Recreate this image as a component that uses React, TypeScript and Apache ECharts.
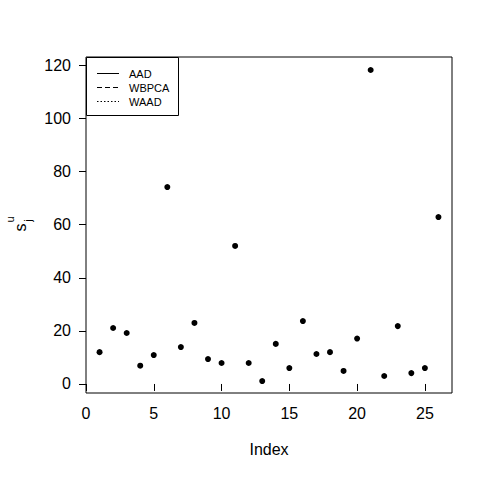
import React, { useEffect, useRef } from "react";
import * as echarts from "echarts";

const indexValues = [1, 2, 3, 4, 5, 6, 7, 8, 9, 10, 11, 12, 13, 14, 15, 16, 17, 18, 19, 20, 21, 22, 23, 24, 25, 26];
const sValues = [12.0, 21.1, 19.2, 6.9, 10.9, 74.2, 13.9, 23.0, 9.4, 7.9, 52.0, 7.9, 1.1, 15.1, 6.0, 23.7, 11.3, 12.0, 4.9, 17.1, 118.3, 3.0, 21.8, 4.1, 6.0, 62.9];
const xTicks = [0, 5, 10, 15, 20, 25];
const yTicks = [0, 20, 40, 60, 80, 100, 120];
const legendNames = ["AAD", "WBPCA", "WAAD"];
const legendDash: (number[] | null)[] = [null, [5, 3], [1.5, 2]];

const FONT = "'Liberation Sans', Arial, sans-serif";

export default function App() {
  const ref = useRef<HTMLDivElement>(null);
  useEffect(() => {
    if (!ref.current) return;
    const chart = echarts.init(ref.current, undefined, { renderer: "svg" });
    const legendX = 86, legendY = 57, rowH = 14;
    const legendGraphics: any[] = [
      {
        type: "rect",
        shape: { x: legendX + 0.5, y: legendY + 0.5, width: 92, height: 58 },
        style: { fill: "#fff", stroke: "#000", lineWidth: 1 },
        z: 10,
      },
    ];
    legendNames.forEach((name, i) => {
      const y = 73.5 + i * rowH;
      legendGraphics.push({
        type: "line",
        shape: { x1: 97, y1: y, x2: 119, y2: y },
        style: { stroke: "#000", lineWidth: 1, lineDash: legendDash[i] || undefined },
        z: 11,
      });
      legendGraphics.push({
        type: "text",
        x: 129,
        y: y,
        style: { text: name, font: `11px ${FONT}`, fill: "#000", textAlign: "left", textVerticalAlign: "middle" },
        z: 11,
      });
    });
    const ylab: any[] = [
      {
        type: "text", x: 20, y: 227.5, rotation: Math.PI / 2,
        style: { text: "s", font: `16px ${FONT}`, fill: "#000", textAlign: "center", textVerticalAlign: "middle" },
      },
      {
        type: "text", x: 10, y: 219.5, rotation: Math.PI / 2,
        style: { text: "u", font: `11px ${FONT}`, fill: "#000", textAlign: "center", textVerticalAlign: "middle" },
      },
      {
        type: "text", x: 28, y: 220.5, rotation: Math.PI / 2,
        style: { text: "j", font: `11px ${FONT}`, fill: "#000", textAlign: "center", textVerticalAlign: "middle" },
      },
    ];
    chart.setOption({
      animation: false,
      backgroundColor: "#fff",
      textStyle: { fontFamily: FONT },
      grid: {
        left: 86, top: 57, right: 28, bottom: 87,
        show: true, borderColor: "#000", borderWidth: 1, backgroundColor: "transparent",
      },
      xAxis: {
        type: "value", min: 0, max: 27,
        name: "Index", nameLocation: "middle", nameGap: 48,
        nameTextStyle: { fontSize: 16, color: "#000", fontFamily: FONT },
        axisLine: { show: false },
        axisTick: { show: true, inside: false, length: 7, lineStyle: { color: "#000" }, customValues: xTicks },
        axisLabel: { fontSize: 16, color: "#000", margin: 12, fontFamily: FONT, customValues: xTicks },
        splitLine: { show: false },
      },
      yAxis: {
        type: "value", min: -3.4, max: 123.2,
        axisLine: { show: false },
        axisTick: { show: true, inside: false, length: 7, lineStyle: { color: "#000" }, customValues: yTicks },
        axisLabel: { fontSize: 16, color: "#000", margin: 15, fontFamily: FONT, customValues: yTicks },
        splitLine: { show: false },
      },
      graphic: [...legendGraphics, ...ylab],
      series: [
        {
          type: "scatter",
          data: indexValues.map((x, i) => [x, sValues[i]]),
          symbol: "circle",
          symbolSize: 6,
          itemStyle: { color: "#000", opacity: 1 },
        },
      ],
    });
    return () => chart.dispose();
  }, []);
  return <div ref={ref} style={{ position: "fixed", left: 0, top: 0, width: 480, height: 480 }} />;
}
